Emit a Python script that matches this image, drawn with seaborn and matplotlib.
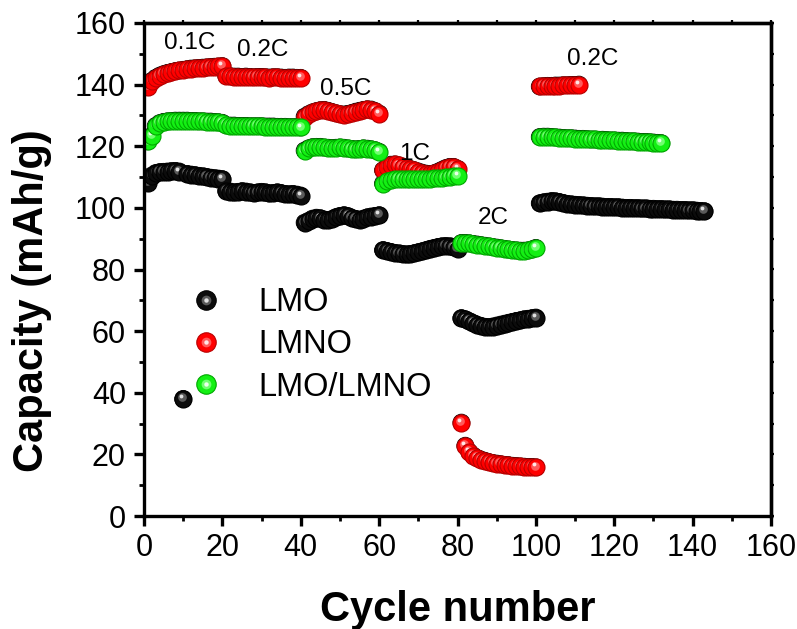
import numpy as np
import pandas as pd
import matplotlib
matplotlib.use("Agg")
import matplotlib.pyplot as plt
import seaborn as sns
from matplotlib.transforms import offset_copy
from matplotlib.lines import Line2D
from matplotlib.legend_handler import HandlerTuple
from matplotlib.ticker import MultipleLocator

# ---------------- data ----------------
samples = ["LMO", "LMNO", "LMO/LMNO"]

lmo_cycle = list(range(1, 144))
lmo_capacity = [
    # 0.1C
    108.2, 110.5, 111.3, 111.6, 111.7, 111.8, 111.9, 112.0, 111.8, 38.0,
    111.0, 110.8, 110.6, 110.4, 110.2, 110.0, 109.8, 109.6, 109.5, 109.3,
    # 0.2C
    105.5, 105.3, 105.0, 105.2, 105.4, 105.3, 105.0, 104.8, 105.0, 105.2,
    105.0, 104.7, 104.8, 105.0, 104.8, 104.5, 104.4, 104.5, 104.3, 104.0,
    # 0.5C
    95.2, 95.8, 96.5, 96.8, 96.6, 96.2, 96.0, 96.4, 97.0, 97.4,
    97.6, 97.3, 96.8, 96.4, 96.2, 96.5, 96.9, 97.2, 97.4, 97.6,
    # 1C
    86.3, 86.0, 85.7, 85.4, 85.2, 85.0, 84.9, 85.0, 85.3, 85.6,
    85.9, 86.3, 86.7, 87.0, 87.3, 87.5, 87.6, 87.5, 87.2, 86.8,
    # 2C
    64.2, 63.8, 63.2, 62.6, 62.1, 61.7, 61.4, 61.3, 61.5, 61.8,
    62.1, 62.4, 62.7, 63.0, 63.3, 63.5, 63.8, 64.0, 64.2, 64.4,
    # 0.2C
    101.5, 101.8, 102.0, 102.2, 102.1, 101.9, 101.6, 101.3, 101.1, 101.0,
    100.9, 100.8, 100.7, 100.6, 100.5, 100.5, 100.4, 100.3, 100.3, 100.2,
    100.2, 100.1, 100.0, 100.0, 99.9, 99.9, 99.8, 99.8, 99.7, 99.7,
    99.6, 99.6, 99.5, 99.5, 99.4, 99.4, 99.3, 99.3, 99.2, 99.2,
    99.1, 99.0, 98.9,
]

lmno_cycle = list(range(1, 112))
lmno_capacity = [
    # 0.1C
    139.2, 141.2, 142.2, 142.9, 143.4, 143.8, 144.1, 144.4, 144.6, 144.8,
    145.0, 145.2, 145.3, 145.4, 145.5, 145.6, 145.7, 145.8, 145.9, 146.0,
    # 0.2C
    142.8, 142.7, 142.6, 142.6, 142.5, 142.6, 142.5, 142.4, 142.5, 142.5,
    142.4, 142.3, 142.4, 142.4, 142.3, 142.2, 142.3, 142.3, 142.2, 142.2,
    # 0.5C
    129.6, 130.4, 131.0, 131.4, 131.7, 131.8, 131.5, 131.1, 130.7, 130.4,
    130.3, 130.5, 130.8, 131.2, 131.5, 131.8, 132.0, 131.9, 131.4, 130.6,
    # 1C
    112.2, 113.4, 114.0, 114.1, 113.8, 113.4, 113.0, 112.6, 112.2, 111.8,
    111.4, 111.1, 111.0, 111.2, 111.7, 112.3, 112.9, 113.3, 113.3, 112.7,
    # 2C
    30.3, 22.8, 20.8, 19.6, 18.8, 18.3, 17.9, 17.5, 17.2, 17.0,
    16.8, 16.6, 16.5, 16.3, 16.2, 16.1, 16.0, 15.9, 15.9, 15.8,
    # 0.2C
    139.4, 139.5, 139.6, 139.6, 139.7, 139.7, 139.8, 139.8, 139.9, 139.9,
    140.0,
]

mix_cycle = list(range(1, 133))
mix_capacity = [
    # 0.1C
    121.6, 123.4, 126.6, 127.5, 127.9, 128.1, 128.2, 128.3, 128.3, 128.3,
    128.3, 128.2, 128.2, 128.1, 128.1, 128.0, 128.0, 127.9, 127.8, 127.6,
    # 0.2C
    126.8, 126.7, 126.7, 126.6, 126.6, 126.6, 126.5, 126.5, 126.5, 126.5,
    126.4, 126.4, 126.4, 126.3, 126.3, 126.3, 126.2, 126.2, 126.2, 126.1,
    # 0.5C
    118.6, 119.3, 119.7, 119.8, 119.8, 119.6, 119.5, 119.4, 119.5, 119.6,
    119.5, 119.3, 119.1, 119.0, 119.1, 119.3, 119.2, 119.0, 118.7, 118.2,
    # 1C
    107.9, 108.7, 109.1, 109.3, 109.5, 109.5, 109.4, 109.4, 109.3, 109.3,
    109.3, 109.4, 109.5, 109.6, 109.7, 109.8, 109.9, 110.1, 110.3, 110.5,
    # 2C
    88.6, 88.6, 88.5, 88.3, 88.1, 87.9, 87.7, 87.5, 87.3, 87.1,
    86.9, 86.7, 86.5, 86.3, 86.2, 86.1, 86.1, 86.2, 86.5, 87.0,
    # 0.2C
    123.0, 123.1, 123.1, 123.0, 122.9, 122.8, 122.7, 122.6, 122.6, 122.5,
    122.4, 122.4, 122.3, 122.2, 122.2, 122.1, 122.1, 122.0, 121.9, 121.9,
    121.8, 121.8, 121.7, 121.6, 121.6, 121.5, 121.4, 121.4, 121.3, 121.2,
    121.1, 121.0,
]

rate_labels = ["0.1C", "0.2C", "0.5C", "1C", "2C", "0.2C"]
rate_label_x = [11.7, 30.4, 51.5, 69.1, 89.0, 114.4]
rate_label_y = [151.5, 149.4, 136.7, 115.6, 94.8, 146.4]

xticks = [0, 20, 40, 60, 80, 100, 120, 140, 160]
yticks = [0, 20, 40, 60, 80, 100, 120, 140, 160]

# ---------------- styling ----------------
sns.set_theme(style="ticks")
plt.rcParams["font.family"] = ["Liberation Sans", "DejaVu Sans"]
for key in ["text.color", "axes.labelcolor", "xtick.color", "ytick.color",
            "axes.edgecolor"]:
    plt.rcParams[key] = "black"

colors = {"LMO": "#0c0c0c", "LMNO": "#ff0000", "LMO/LMNO": "#14f014"}
edges = {"LMO": "#000000", "LMNO": "#b80000", "LMO/LMNO": "#00a800"}
mids = {"LMO": "#5a5a5a", "LMNO": "#ff5a5a", "LMO/LMNO": "#70ff70"}
spots = {"LMO": "#e0e0e0", "LMNO": "#ffe6e6", "LMO/LMNO": "#eaffea"}

S = 150  # marker area (pt^2)

fig = plt.figure(figsize=(7.97, 6.29), dpi=100)
ax = fig.add_axes([144 / 797, 1 - 516 / 629, 627 / 797, 493 / 629])

df = pd.concat([
    pd.DataFrame({"cycle": lmo_cycle, "capacity": lmo_capacity, "sample": "LMO"}),
    pd.DataFrame({"cycle": lmno_cycle, "capacity": lmno_capacity, "sample": "LMNO"}),
    pd.DataFrame({"cycle": mix_cycle, "capacity": mix_capacity, "sample": "LMO/LMNO"}),
], ignore_index=True)

# base layer via seaborn
sns.scatterplot(data=df, x="cycle", y="capacity", hue="sample", palette=colors,
                s=S, edgecolor="black", linewidth=0.6, legend=False, ax=ax, zorder=1)

t_mid = offset_copy(ax.transData, fig=fig, x=-0.9, y=1.3, units="points")
t_spot = offset_copy(ax.transData, fig=fig, x=-1.4, y=2.1, units="points")

z = 2.0
for name in samples:
    sub = df[df["sample"] == name]
    for xi, yi in zip(sub["cycle"], sub["capacity"]):
        z += 1e-4
        ax.scatter([xi], [yi], s=S, c=[colors[name]], edgecolors=[edges[name]],
                   linewidths=0.8, zorder=z)
        ax.scatter([xi], [yi], s=S * 0.26, c=[mids[name]], linewidths=0,
                   zorder=z, transform=t_mid)
        ax.scatter([xi], [yi], s=S * 0.05, c=[spots[name]], linewidths=0,
                   zorder=z, transform=t_spot)

for lab, lx, ly in zip(rate_labels, rate_label_x, rate_label_y):
    ax.text(lx, ly, lab, ha="center", va="baseline", fontsize=17.5, zorder=10)

ax.set_xlim(0, 160)
ax.set_ylim(0, 160)
ax.set_xticks(xticks)
ax.set_yticks(yticks)
ax.xaxis.set_minor_locator(MultipleLocator(10))
ax.yaxis.set_minor_locator(MultipleLocator(10))
ax.tick_params(which="major", direction="out", length=7, width=2.4,
               labelsize=22, pad=5, color="black", labelcolor="black")
ax.tick_params(axis="y", which="major", pad=6)
ax.tick_params(which="minor", direction="out", length=3.5, width=2.0, color="black")
for sp in ax.spines.values():
    sp.set_linewidth(2.4)
    sp.set_color("black")
    sp.set_visible(True)

# mirrored short ticks on top and right
sx = ax.secondary_xaxis("top")
sx.set_xticks(xticks)
sx.xaxis.set_minor_locator(MultipleLocator(10))
sx.tick_params(which="both", direction="out", length=2.5, width=1.6, labeltop=False)
sx.spines["top"].set_linewidth(2.4)
sy = ax.secondary_yaxis("right")
sy.set_yticks(yticks)
sy.yaxis.set_minor_locator(MultipleLocator(10))
sy.tick_params(which="both", direction="out", length=2.5, width=1.6, labelright=False)
sy.spines["right"].set_linewidth(2.4)

ax.set_xlabel("Cycle number", fontsize=30, fontweight="bold", labelpad=20)
ax.set_ylabel("Capacity (mAh/g)", fontsize=30, fontweight="bold")
ax.yaxis.set_label_coords(-0.147, (516 - 301) / 493)

# legend with shaded balls
handles = []
for name in samples:
    h1 = Line2D([], [], ls="none", marker="o", ms=14, mfc=colors[name],
                mec=edges[name], mew=0.8)
    h2 = Line2D([], [], ls="none", marker="o", ms=7.0, mfc=mids[name], mew=0)
    h3 = Line2D([], [], ls="none", marker="o", ms=3.2, mfc=spots[name], mew=0)
    handles.append((h1, h2, h3))
leg = ax.legend(handles, samples, handler_map={tuple: HandlerTuple(ndivide=1)},
                loc="upper left", bbox_to_anchor=(0.013, 0.524), frameon=False,
                fontsize=23.5, handlelength=1.5, handletextpad=0.85,
                labelspacing=0.35, borderpad=0.4)
leg.set_zorder(20)

fig.savefig("out.png", dpi=100)
